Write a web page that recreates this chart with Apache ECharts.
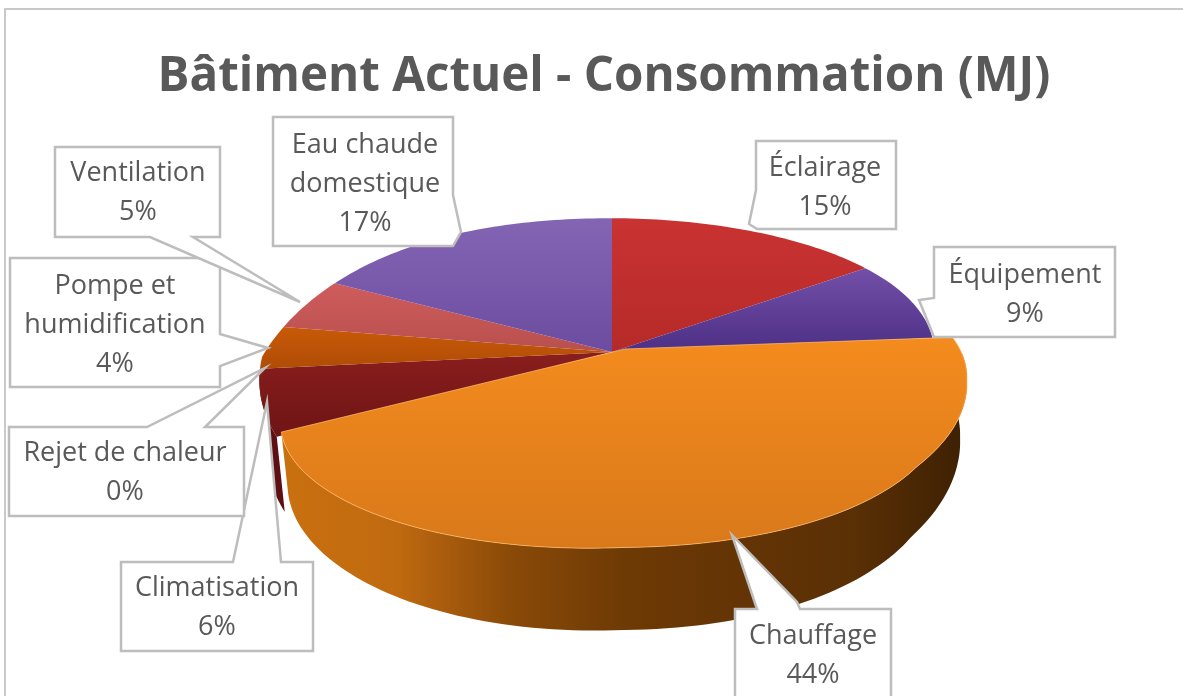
<!DOCTYPE html>
<html><head><meta charset="utf-8">
<style>html,body{margin:0;padding:0;background:#fff}#c{width:1183px;height:696px}</style>
<script src="https://cdn.jsdelivr.net/npm/echarts@6/dist/echarts.min.js"></script>
</head><body><div id="c"></div>
<script>
var titleText = 'Bâtiment Actuel - Consommation (MJ)';
var categories = ['Éclairage','Équipement','Chauffage','Climatisation','Rejet de chaleur','Pompe et\nhumidification','Ventilation','Eau chaude\ndomestique'];
var values = [15,9,44,6,0,4,5,17];
var explodedIndex = 2;

var total = values.reduce(function(a,b){return a+b;},0);
var starts = []; values.reduce(function(a,v,i){starts[i]=a;return a+v;},0);
var topColors = [
  ['#c93332','#b52a28'],['#7350a8','#4d2f86'],['#f48b1e','#d9791a'],['#8a1e1e','#6e1414'],
  ['#c85a08','#c85a08'],['#c85a08','#b04c06'],['#cf5c5c','#b8504e'],['#8465b4','#6c4ca0']
];
function rad(p){return p/total*2*Math.PI;}
// Rim of the unexploded disc: perspective ellipse seen slightly from one side
function backRim(t){
  var u=Math.sin(t),v=Math.cos(t),k=0.084,a=336,b=145,w=1+k*v;
  var dx=a*u/w-14*(1-v), dy=-b*v/w-5*u*(1-v*v);
  if(u<0&&v>0) {dx+=52*v*(1-v); dy-=20*v*(1-v);}
  if(u<0&&v<0) dy+=40*(-v);
  return [612+dx,352+dy];
}
// Shape correction of the exploded slice's rim on its right-hand side
var rimV=[-1,-0.82,-0.71,-0.4,-0.26,0.07], rimF=[1,0.968,0.955,0.985,1,1.05];
function rimFactor(v){
  for(var i=0;i<rimV.length-1;i++){
    if(v<=rimV[i+1]){return rimF[i]+(rimF[i+1]-rimF[i])*(v-rimV[i])/(rimV[i+1]-rimV[i]);}
  }
  return rimF[rimF.length-1];
}
function frontRim(t,depth){
  var u=Math.sin(t),v=Math.cos(t),k=0.37,a=320,b=125,w=1+k*v;
  var dy=-b*v/w-(u<0?22*u:4*u);
  var dx=a*u/w;
  if(u>0) dx*=rimFactor(v);
  if(depth){dy+=52/w; dx*=0.98;}
  return [625+dx, 349+dy];
}
function arcPts(fn,p0,p1,depth){
  var n=Math.max(2,Math.ceil((p1-p0)*3)),pts=[];
  for(var i=0;i<=n;i++){pts.push(fn(rad(p0+(p1-p0)*i/n),depth));}
  return pts;
}
function grad(x0,y0,x1,y1,stops){
  return new echarts.graphic.LinearGradient(x0,y0,x1,y1,stops.map(function(c,i){return {offset:i/(stops.length-1),color:c};}));
}
function renderItem(params,api){
  var i=api.value(0),v=api.value(1),s=starts[i],e=s+v,kids=[];
  if(v<=0) return {type:'group',children:[]};
  if(i===explodedIndex){
    var wallTop=arcPts(frontRim,s+2,e,false);
    var wallBot=arcPts(frontRim,s+2,e,true);
    kids.push({type:'polygon',shape:{points:wallTop.concat(wallBot.reverse())},z2:3,
      style:{fill:grad(1,0,0,0,['#3d2003','#5a3005','#643405','#6e3a05','#8a4a08','#c06a10','#c9700f'])}});
    var topPts=[[625,349]].concat(arcPts(frontRim,s,e,false));
    kids.push({type:'polygon',shape:{points:topPts},z2:5,
      style:{fill:grad(0,0,0,1,topColors[i]),stroke:'rgba(255,190,110,0.7)',lineWidth:1}});
  } else {
    if(i===3){
      var wt=arcPts(backRim,s,e,false),wb=wt.map(function(p){return [p[0]+8,p[1]+75];});
      kids.push({type:'polygon',shape:{points:wt.concat(wb.reverse())},z2:1,style:{fill:'#5e0f14'}});
    }
    var pts=[[612,352]].concat(arcPts(backRim,s,e,false));
    kids.push({type:'polygon',shape:{points:pts},z2:2,
      style:{fill:grad(0,0,0,1,topColors[i])}});
  }
  return {type:'group',children:kids};
}
var calloutPolys = [
  [[756,141],[896,141],[896,229],[757,229],[749,224],[756,190]],
  [[934,247],[1115,247],[1115,337],[934,337],[919,300],[934,298]],
  [[735,609],[757,609],[732,535],[797,602],[800,609],[891,609],[891,700],[735,700]],
  [[121,562],[233,562],[267,402],[281,562],[313,562],[313,651],[121,651]],
  [[9,427],[147,427],[265,368],[205,427],[244,427],[244,516],[9,516]],
  [[10,258],[220,258],[220,334],[268,348],[220,366],[220,387],[10,387]],
  [[55,147],[220,147],[220,237],[193,237],[300,302],[150,237],[55,237]],
  [[273,117],[453,117],[453,195],[461,232],[453,246],[273,246]]
];
var labelPos = [[825,188],[1025,295],[813,656],[217,608],[125,473],[115,325],[138,193],[365,184]];
var graphics = [
  {type:'polyline',z:1,shape:{points:[[5,696],[5,9],[1183,9]]},style:{stroke:'#c9c9c9',lineWidth:2,fill:null},silent:true}
];
calloutPolys.forEach(function(p,i){
  graphics.push({type:'polygon',z:10+i,shape:{points:p},style:{fill:'#fff',stroke:'#bdbdbd',lineWidth:2.5,lineJoin:'miter'},silent:true});
});
categories.forEach(function(c,i){
  graphics.push({type:'text',z:30,x:labelPos[i][0],y:labelPos[i][1],silent:true,
    style:{text:c+'\n'+values[i]+'%',fill:'#595959',font:'27px "Open Sans"',align:'center',verticalAlign:'middle',lineHeight:39}});
});
var chart = echarts.init(document.getElementById('c'),null,{renderer:'canvas'});
chart.setOption({
  animation:false,
  backgroundColor:'#fff',
  title:{text:titleText,left:599,top:48,textAlign:'center',textStyle:{fontFamily:'Open Sans',fontSize:47.5,fontWeight:'bold',color:'#595959'}},
  graphic:graphics,
  series:[{type:'custom',coordinateSystem:'none',renderItem:renderItem,silent:true,
    data:values.map(function(v,i){return [i,v];}),z:5}]
});
</script></body></html>
